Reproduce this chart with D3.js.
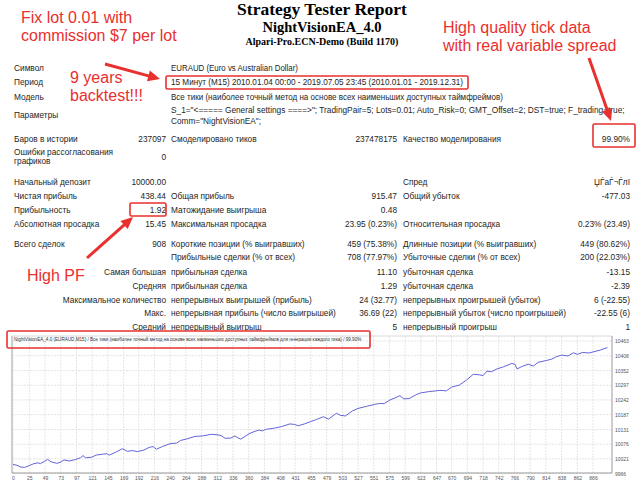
<!DOCTYPE html>
<html><head><meta charset="utf-8">
<script src="https://cdn.jsdelivr.net/npm/d3@7"></script>
<style>html,body{margin:0;padding:0;background:#fff;overflow:hidden}</style>
</head><body>
<svg id="c" width="640" height="480"></svg>
<script>
// ---------------- DATA ----------------
const reportTitle = "Strategy Tester Report";
const eaName = "NightVisionEA_4.0";
const serverLine = "Alpari-Pro.ECN-Demo (Build 1170)";

const infoLabels = ["Символ", "Период", "Модель", "Параметры"];
const infoValues = [
  "EURAUD (Euro vs Australian Dollar)",
  "15 Минут (M15) 2010.01.04 00:00 - 2019.07.05 23:45 (2010.01.01 - 2019.12.31)",
  "Все тики (наиболее точный метод на основе всех наименьших доступных таймфреймов)"
];
const paramLines = [
  'S_1="<===== General settings ====>"; TradingPair=5; Lots=0.01; Auto_Risk=0; GMT_Offset=2; DST=true; F_trading=true;',
  'Comm="NightVisionEA";'
];

// [label1, value1, label2, value2, label3, value3]
const statRows = [
  ["Баров в истории", "237097", "Смоделировано тиков", "237478175", "Качество моделирования", "99.90%"],
  ["Ошибки рассогласования|графиков", "0", "", "", "", ""],
  ["Начальный депозит", "10000.00", "", "", "Спред", "ЏЃаЃ¬Ѓлї"],
  ["Чистая прибыль", "438.44", "Общая прибыль", "915.47", "Общий убыток", "-477.03"],
  ["Прибыльность", "1.92", "Матожидание выигрыша", "0.48", "", ""],
  ["Абсолютная просадка", "15.45", "Максимальная просадка", "23.95 (0.23%)", "Относительная просадка", "0.23% (23.49)"],
  ["Всего сделок", "908", "Короткие позиции (% выигравших)", "459 (75.38%)", "Длинные позиции (% выигравших)", "449 (80.62%)"]
];
// [prefix (right aligned), label2, value2, label3, value3]
const tradeRows = [
  ["", "Прибыльные сделки (% от всех)", "708 (77.97%)", "Убыточные сделки (% от всех)", "200 (22.03%)"],
  ["Самая большая", "прибыльная сделка", "11.10", "убыточная сделка", "-13.15"],
  ["Средняя", "прибыльная сделка", "1.29", "убыточная сделка", "-2.39"],
  ["Максимальное количество", "непрерывных выигрышей (прибыль)", "24 (32.77)", "непрерывных проигрышей (убыток)", "6 (-22.55)"],
  ["Макс.", "непрерывная прибыль (число выигрышей)", "36.69 (22)", "непрерывный убыток (число проигрышей)", "-22.55 (6)"],
  ["Средний", "непрерывный выигрыш", "5", "непрерывный проигрыш", "1"]
];

const annotations = [
  ["Fix lot 0.01 with", "commission $7 per lot"],
  ["9 years", "backtest!!!"],
  ["High quality tick data", "with real variable spread"],
  ["High PF"]
];

const chartTitle = "NightVisionEA_4.0 (EURAUD,M15) / Все тики (наиболее точный метод на основе всех наименьших доступных таймфреймов для генерации каждого тика) / 99.90%";
const xTicks = [0,25,49,73,97,121,145,169,192,216,240,264,288,312,336,360,384,408,431,455,479,503,527,551,575,599,623,647,670,694,718,742,766,790,814,838,862,886];
const yTicks = [9966,10021,10076,10131,10187,10242,10297,10352,10408,10463];

const tradeIdx = [0,6,12,18,24,32,38,42,49,53,58,67,72,78,86,95,103,107,111,120,127,138,143,147,157,167,175,182,190,200,208,214,219,228,240,250,256,266,278,290,303,313,318,324,333,339,344,348,362,375,381,387,399,410,423,430,436,445,454,464,474,482,494,500,508,518,527,540,552,561,567,576,584,591,597,605,617,622,635,646,652,662,670,682,693,703,713,718,724,731,739,749,762,767,770,777,787,795,802,815,823,830,838,848,856,862,870,880,897,908];
const balance = [10000,9997,9990,9989,9995,10003,10006,10003,10013,10019,10010,10004,10008,10017,10013,10018,10025,10033,10025,10027,10035,10039,10040,10035,10046,10059,10049,10052,10048,10054,10064,10067,10057,10067,10078,10080,10090,10096,10105,10107,10113,10111,10108,10098,10099,10107,10099,10095,10117,10129,10126,10132,10136,10142,10152,10150,10145,10152,10160,10169,10179,10170,10192,10184,10182,10200,10210,10218,10225,10229,10228,10242,10250,10258,10246,10247,10263,10268,10273,10276,10278,10276,10290,10298,10317,10338,10336,10333,10350,10348,10358,10366,10379,10375,10358,10367,10376,10369,10383,10390,10395,10404,10410,10407,10419,10413,10420,10418,10429,10438.44];

// ---------------- DRAW ----------------
const svg = d3.select("#c");
const RED = "#e8302e";
const TXT = "#1e1e1e";
const tableFont = "'Liberation Sans', Arial, sans-serif";
const FS = 8.3;

svg.append("rect").attr("width", 640).attr("height", 480).attr("fill", "#fff");

// header
const serif = "'Liberation Serif', 'Times New Roman', serif";
svg.append("text").attr("x", 322).attr("y", 15).attr("text-anchor", "middle")
  .attr("font-family", serif).attr("font-weight", "bold").attr("font-size", 17.5).attr("fill", "#000").text(reportTitle);
svg.append("text").attr("x", 322).attr("y", 32).attr("text-anchor", "middle")
  .attr("font-family", serif).attr("font-weight", "bold").attr("font-size", 14.5).attr("fill", "#000").text(eaName);
svg.append("text").attr("x", 322).attr("y", 45).attr("text-anchor", "middle")
  .attr("font-family", serif).attr("font-weight", "bold").attr("font-size", 10).attr("fill", "#000").text(serverLine);

// table helpers
const C1 = 14, V1 = 166, C2 = 171, V2 = 397, C3 = 403, V3 = 630;
function t(x, y, s, anchor, maxW) {
  if (!s) return null;
  const el = svg.append("text").attr("x", x).attr("y", y).attr("text-anchor", anchor || "start")
    .attr("font-family", tableFont).attr("font-size", FS).attr("fill", TXT).text(s);
  if (maxW) {
    const w = el.node().getComputedTextLength();
    if (w > maxW) el.attr("textLength", maxW).attr("lengthAdjust", "spacingAndGlyphs");
  }
  return el;
}
const infoY = [71, 85, 100, 118];
const infoW = [127, 292, 332];
infoLabels.forEach((s, i) => t(C1, infoY[i], s));
infoValues.forEach((s, i) => t(C2, infoY[i], s, "start", infoW[i]));
const paramY = [113, 124];
const paramW = [455, 90];
paramLines.forEach((s, i) => t(C2, paramY[i], s, "start", paramW[i]));

const statY = [142, 160, 185, 199, 213, 227, 247];
statRows.forEach((r, i) => {
  const y = statY[i];
  if (r[0].includes("|")) {
    const parts = r[0].split("|");
    t(C1, y - 5, parts[0]);
    t(C1, y + 4, parts[1]);
  } else t(C1, y, r[0]);
  t(V1, y, r[1], "end");
  t(C2, y, r[2]);
  t(V2, y, r[3], "end");
  t(C3, y, r[4]);
  t(V3, y, r[5], "end");
});
const tradeY = [260, 275, 289, 303, 316, 330];
tradeRows.forEach((r, i) => {
  const y = tradeY[i];
  t(V1, y, r[0], "end");
  t(C2, y, r[1]);
  t(V2, y, r[2], "end");
  t(C3, y, r[3]);
  t(V3, y, r[4], "end");
});

// ---------------- CHART ----------------
const plot = {left: 12, right: 612, top: 336, bottom: 473};
svg.append("rect").attr("x", 7).attr("y", 331).attr("width", 633).attr("height", 149).attr("fill", "#fff");

const x = d3.scaleLinear().domain([0, 915]).range([13, 612]);
const y = d3.scaleLinear().domain([9966, 10463]).range([473.5, 341]);

const g = svg.append("g");
// grid
g.selectAll("line.vg").data(xTicks).enter().append("line")
  .attr("x1", d => x(d)).attr("x2", d => x(d)).attr("y1", plot.top).attr("y2", plot.bottom)
  .attr("stroke", "#dedede").attr("stroke-width", 0.8).attr("stroke-dasharray", "2,1");
g.selectAll("line.hg").data(yTicks).enter().append("line")
  .attr("x1", plot.left).attr("x2", plot.right).attr("y1", d => y(d)).attr("y2", d => y(d))
  .attr("stroke", "#dedede").attr("stroke-width", 0.8).attr("stroke-dasharray", "2,1");
// frame
g.append("line").attr("x1", plot.left).attr("x2", plot.right).attr("y1", plot.top).attr("y2", plot.top).attr("stroke", "#d0d0d0").attr("stroke-width", 0.8);
g.append("line").attr("x1", plot.left).attr("x2", plot.left).attr("y1", plot.top).attr("y2", plot.bottom).attr("stroke", "#c4c4c4").attr("stroke-width", 1.6);

// axes
const xAxis = d3.axisBottom(x).tickValues(xTicks).tickSize(0).tickPadding(3);
const xa = g.append("g").attr("transform", `translate(0,${plot.bottom})`).call(xAxis);
xa.select(".domain").attr("stroke", "#999").attr("d", `M${plot.left},0H${plot.right}`);
xa.selectAll("text").attr("font-family", tableFont).attr("font-size", 5).attr("fill", "#555");

const yAxis = d3.axisRight(y).tickValues(yTicks).tickSize(0).tickPadding(3).tickFormat(d3.format("d"));
const ya = g.append("g").attr("transform", `translate(${plot.right},0)`).call(yAxis);
ya.select(".domain").attr("stroke", "#999").attr("d", `M0,${plot.top}V${plot.bottom}`);
ya.selectAll("text").attr("font-family", tableFont).attr("font-size", 5).attr("fill", "#555");

// balance line
const pts = tradeIdx.map((d, i) => [d, balance[i]]);
g.append("path").datum(pts)
  .attr("d", d3.line().x(d => x(d[0])).y(d => y(d[1])))
  .attr("fill", "none").attr("stroke", "#6464dc").attr("stroke-width", 1);

// chart title
g.append("text").attr("x", 14).attr("y", 341).attr("font-family", tableFont).attr("font-size", 4.6)
  .attr("fill", "#333").text(chartTitle);

// ---------------- ANNOTATIONS ----------------
function box(x0, y0, x1, y1) {
  svg.append("rect").attr("x", x0).attr("y", y0).attr("width", x1 - x0).attr("height", y1 - y0)
    .attr("rx", 1.5).attr("fill", "none").attr("stroke", RED).attr("stroke-width", 1.6);
}
box(166, 76, 468, 89);
box(593, 124, 635, 147);
box(130, 203, 166, 216);
box(7, 331, 370, 348);

function arrow(x1, y1, x2, y2) {
  const dx = x2 - x1, dy = y2 - y1, L = Math.hypot(dx, dy), ux = dx / L, uy = dy / L;
  const hl = 12, hw = 5.5, bx = x2 - ux * hl, by = y2 - uy * hl;
  svg.append("line").attr("x1", x1).attr("y1", y1).attr("x2", bx + ux).attr("y2", by + uy)
    .attr("stroke", RED).attr("stroke-width", 3);
  svg.append("polygon").attr("points", `${x2},${y2} ${bx - uy * hw},${by + ux * hw} ${bx + uy * hw},${by - ux * hw}`)
    .attr("fill", RED);
}
arrow(105, 64, 160, 79);
arrow(589, 58, 611, 121);
arrow(87, 258, 133, 217);

const annoPos = [[21, 23, 41], [70, 83, 101], [443, 33, 51], [27, 281]];
const annoFont = "'Liberation Sans', Arial, sans-serif";
annotations.forEach((lines, i) => {
  lines.forEach((s, j) => {
    svg.append("text").attr("x", annoPos[i][0]).attr("y", annoPos[i][1 + j])
      .attr("font-family", annoFont).attr("font-size", 16).attr("fill", RED).text(s);
  });
});
</script>
</body></html>
